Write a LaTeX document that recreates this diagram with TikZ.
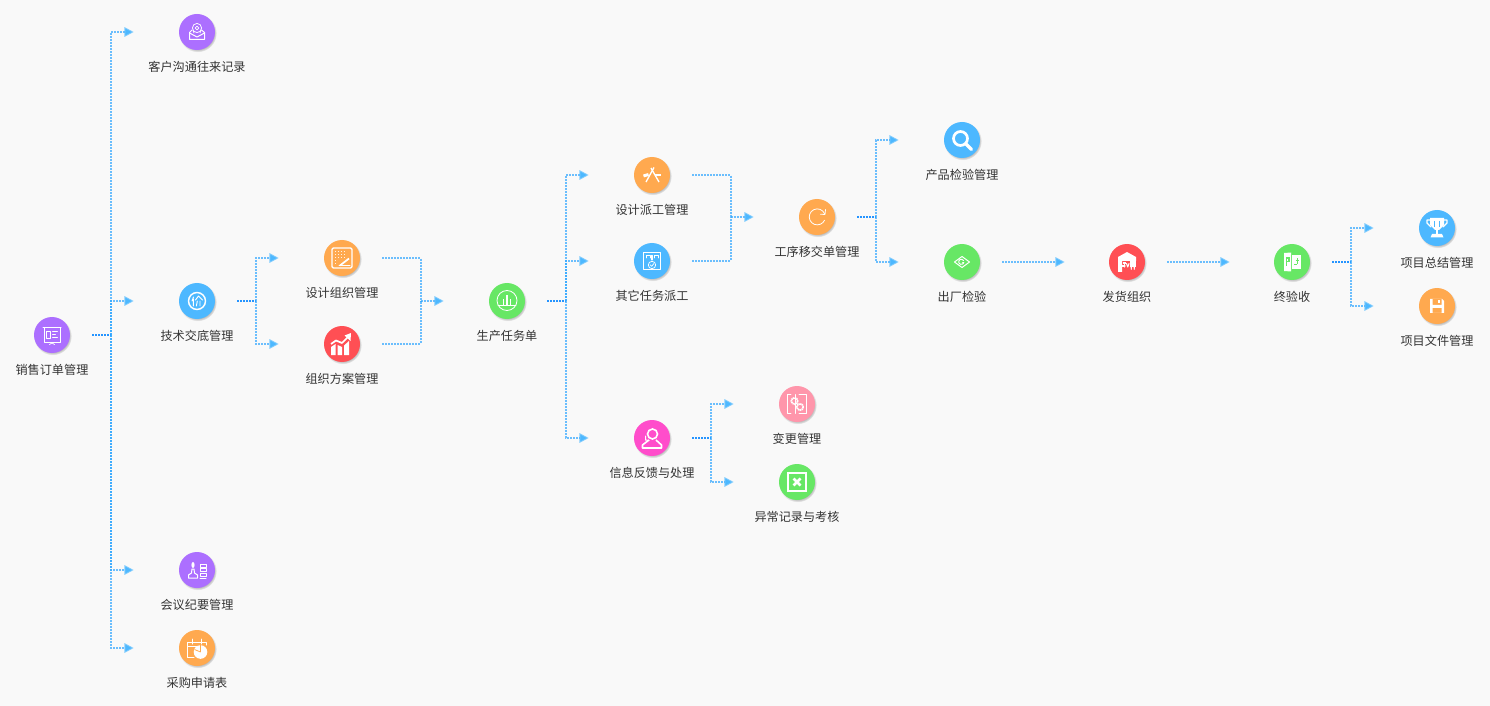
\documentclass[tikz,border=0pt]{standalone}
\usepackage{fontspec}
\setmainfont{Noto Sans CJK SC}
\usetikzlibrary{arrows.meta,calc,shadows}
\definecolor{bgc}{HTML}{F9F9F9}
\definecolor{lk}{HTML}{2FA6FF}
\definecolor{lkd}{HTML}{2594FF}
\definecolor{tipc}{HTML}{4DB8FF}
\definecolor{pur}{HTML}{AC6FFF}
\definecolor{blu}{HTML}{4DB8FF}
\definecolor{ora}{HTML}{FFA94F}
\definecolor{rdd}{HTML}{FF4F54}
\definecolor{grn}{HTML}{67E765}
\definecolor{mag}{HTML}{FF4DCB}
\definecolor{pnk}{HTML}{FF96AB}
\definecolor{txt}{HTML}{333333}
\tikzset{
 x=0.75pt,y=-0.75pt,
 disc/.style={circle,minimum size=27pt,inner sep=0pt,fill=#1,
   circular drop shadow={shadow xshift=0.5pt,shadow yshift=-0.8pt,shadow scale=1.06,opacity=.5}},
 lab/.style={font=\fontsize{9.1pt}{11pt}\selectfont,text=txt,inner sep=0pt,anchor=center},
 wire/.style={draw=lk,draw opacity=.7,line width=1.5pt,dash pattern=on 1.5pt off 0.75pt},
 stub/.style={wire,draw=lkd,draw opacity=1},
 wirearrow/.style={wire,-{Triangle[length=7pt,width=7pt,fill=tipc,color=tipc]}},
 ln/.style={draw=white,line width=0.75pt,line cap=round,line join=round,fill=none},
 thin/.style={draw=white,line width=0.55pt,line cap=round,line join=round,fill=none}
}
% name, colour, x, y, label
\newcommand{\unit}[5]{%
  \node[disc=#2] (#1) at (#3,#4) {};
  \node[lab] (#1lab) at (#3,#4+35) {#5};
}
% split connector: source to bus then to each target
\newcommand{\fork}[2]{%
  \coordinate (bus#1) at ($(#1.east)+(41,0)$);
  \draw[stub,shorten <=16.5pt] (#1.east) -- (bus#1);
  \foreach \t in {#2}{
    \draw[wirearrow,shorten >=33.75pt] (bus#1) |- (\t.west);
  }
}
% merge connector
\newcommand{\merge}[3]{%
  \coordinate (bus#3) at ($(#3.west)+(-68,0)$);
  \draw[wire,shorten <=16.5pt] (#1.east) -| (bus#3);
  \draw[wire,shorten <=16.5pt] (#2.east) -| (bus#3);
  \draw[wirearrow,shorten >=33.75pt] (bus#3) -- (#3.west);
}
\begin{document}
\begin{tikzpicture}
\useasboundingbox (0,0) rectangle (1490,706);
\fill[bgc] (0,0) rectangle (1490,706);

\unit{sales}{pur}{52}{335}{销售订单管理}
\unit{cust}{pur}{197}{32}{客户沟通往来记录}
\unit{tech}{blu}{197}{301}{技术交底管理}
\unit{meet}{pur}{197}{570}{会议纪要管理}
\unit{buy}{ora}{197}{648}{采购申请表}
\unit{dorg}{ora}{342}{258}{设计组织管理}
\unit{plan}{rdd}{342}{344}{组织方案管理}
\unit{prod}{grn}{507}{301}{生产任务单}
\unit{ddis}{ora}{652}{175}{设计派工管理}
\unit{odis}{blu}{652}{261}{其它任务派工}
\unit{info}{mag}{652}{438}{信息反馈与处理}
\unit{chg}{pnk}{797}{404}{变更管理}
\unit{exc}{grn}{797}{482}{异常记录与考核}
\unit{proc}{ora}{817}{217}{工序移交单管理}
\unit{insp}{blu}{962}{140}{产品检验管理}
\unit{fac}{grn}{962}{262}{出厂检验}
\unit{ship}{rdd}{1127}{262}{发货组织}
\unit{fin}{grn}{1292}{262}{终验收}
\unit{sumr}{blu}{1437}{228}{项目总结管理}
\unit{file}{ora}{1437}{306}{项目文件管理}

\fork{sales}{cust,tech,meet,buy}
\fork{tech}{dorg,plan}
\fork{prod}{ddis,odis,info}
\fork{info}{chg,exc}
\fork{proc}{insp,fac}
\fork{fin}{sumr,file}
\merge{dorg}{plan}{prod}
\merge{ddis}{odis}{proc}
\draw[wirearrow,shorten <=16.5pt,shorten >=33pt] (fac.east) -- (ship.west);
\draw[wirearrow,shorten <=16.5pt,shorten >=33pt] (ship.east) -- (fin.west);

% --- icons ---
\begin{scope}[shift={(sales.center)}]
 \draw[ln] (-9,-8)--(9,-8);
 \draw[thin] (-8,-7)--(-8,7)--(8,7)--(8,-7);
 \draw[thin] (-6,-4) rectangle (-1.5,3);
 \draw[thin] (0.5,-3.5)--(5.5,-3.5) (0.5,-0.5)--(3.5,-0.5) (0.5,2.5)--(5.5,2.5);
 \draw[thin] (-2.5,9.5)--(0,8)--(2.5,9.5);
\end{scope}
\begin{scope}[shift={(cust.center)}]
 \draw[ln] (-5,-2)--(-7.5,0.5)--(-7.5,7.5)--(7.5,7.5)--(7.5,0.5)--(4.5,-2);
 \draw[ln] (-7.5,1)--(0,5)--(7.5,1);
 \draw[thin] (0,-4) circle (4.6);
 \draw[thin] (0,-4) circle (1.8);
 \draw[thin] (-4,-1.5)--(-3,1) (4,-1.5)--(3,1);
\end{scope}
\begin{scope}[shift={(tech.center)}]
 \draw[draw=white,line width=1.1pt] (0,0) circle (8.5);
 \draw[thin,line width=0.7pt] (-3.5,-4)--(-5,0) (-3.7,-2)--(-3.7,5);
 \draw[thin,line width=0.7pt] (1.5,-5)--(-1.5,-1) (1.5,-5)--(5.5,-1);
 \draw[thin,line width=0.7pt] (0.3,0)--(-0.6,5) (3,0)--(3,5);
\end{scope}
\begin{scope}[shift={(meet.center)}]
 \draw[ln] (-8.5,8)--(-8.5,5)--(-5.5,3)--(-5,-1)--(-3,-1)--(-2.5,3)--(0.5,5)--(0.5,8)--cycle;
 \fill[white] (-4,-5) ellipse (1.6 and 3);
 \foreach \yy in {-6,-1.5,3}{\draw[thin,line width=0.7pt] (3,\yy) rectangle (9,\yy+3);}
 \draw[ln] (3,8)--(9,8);
\end{scope}
\begin{scope}[shift={(buy.center)}]
 \draw[ln] (-9.5,9)--(-9.5,-6)--(9,-6)--(9,-3);
 \draw[ln] (-9.5,-2)--(3,-2);
 \draw[ln] (-9.5,9)--(-3,9);
 \draw[ln] (-5,-9)--(-5,-4) (4,-9)--(4,-4);
 \fill[white] (3.5,4) circle (6.8);
 \draw[ora,line width=0.6pt] (3.5,4)--(3.5,-2.8) (3.5,4)--(-2.5,1.5);
\end{scope}
\begin{scope}[shift={(dorg.center)}]
 \draw[draw=white,line width=1pt,rounded corners=1pt] (-10,-10) rectangle (10,10);
 \foreach \xx in {-7,-4,-1,2}{\foreach \yy in {-7,-4,-1}{\fill[white,opacity=.85] (\xx,\yy) rectangle +(1.4,1);}}
 \foreach \yy in {2,5}{\fill[white,opacity=.85] (-7,\yy) rectangle +(1.4,1);}
 \draw[draw=white,line width=1.3pt] (-2,7.5)--(7,0.5);
 \draw[ln] (-3,8)--(8,8);
\end{scope}
\begin{scope}[shift={(plan.center)}]
 \fill[white] (-11,11)--(-11,3)--(-6.5,0)--(-6.5,11)--cycle;
 \fill[white] (-4.5,11)--(-4.5,1)--(0,3)--(0,11)--cycle;
 \fill[white] (2,11)--(2,1.5)--(7,-3)--(7,11)--cycle;
 \draw[draw=white,line width=1.3pt,line join=round] (-11,0)--(-6,-3.5)--(0,-1)--(6,-7);
 \fill[white] (9,-11)--(8.5,-3)--(2.5,-8.5)--cycle;
\end{scope}
\begin{scope}[shift={(prod.center)}]
 \draw[thin,line width=0.6pt] (0,-0.5) circle (10);
 \draw[thin,line width=0.6pt] (-9,4.5)--(9,4.5);
 \fill[white] (-3.6,-2) rectangle (-2.6,4.5);
 \fill[white] (-0.6,-6) rectangle (0.6,4.5);
 \fill[white] (2.6,-2) rectangle (3.6,4.5);
\end{scope}
\begin{scope}[shift={(ddis.center)}]
 \draw[draw=white,line width=1pt] (-6,7)--(2,-7.5);
 \draw[draw=white,line width=1pt] (-1,-7)--(7,7);
 \draw[draw=white,line width=2.2pt] (-8.5,1)--(-3.5,-0.5);
 \draw[draw=white,line width=1.6pt] (3,0)--(9,0);
\end{scope}
\begin{scope}[shift={(odis.center)}]
 \draw[thin,line width=0.7pt] (-8.5,-8.5)--(8.5,-8.5)--(8.5,8)--(-8.5,8)--cycle;
 \draw[thin] (-6,-3)--(-6,-6)--(-2,-6)--(-2,-3) (-0.8,-1)--(-0.8,-6)--(0.8,-6)--(0.8,-1) (2,-3)--(2,-6)--(6,-6)--(6,-3);
 \draw[thin] (0,4) circle (3.7);
 \draw[thin] (-1.7,3.8)--(-0.3,5.3)--(1.8,2.6);
\end{scope}
\begin{scope}[shift={(info.center)}]
 \draw[draw=white,line width=1.2pt] (0.5,-4) circle (5);
 \draw[draw=white,line width=1.2pt,line join=round] (-3,2)--(-9.5,7)--(-9.5,10)--(9.5,10)--(9.5,7)--(4,2);
 \draw[ln] (-6.5,-2)--(-6.5,2)--(-3,2.5);
\end{scope}
\begin{scope}[shift={(chg.center)}]
 \draw[thin,line width=0.7pt] (-6,-9.5)--(-9.5,-9.5)--(-9.5,9.5)--(-6,9.5);
 \draw[thin,line width=0.7pt] (-1.5,-9.5)--(-1.5,9.5);
 \draw[thin,line width=0.7pt] (2,-9.5)--(9.5,-9.5)--(9.5,9.5)--(2,9.5);
 \draw[draw=white,line width=1.3pt,dash pattern=on 1pt off .4pt] (-2.5,-3) circle (3.2);
 \draw[draw=white,line width=1.3pt,dash pattern=on 1pt off .4pt] (3,3) circle (3.2);
\end{scope}
\begin{scope}[shift={(exc.center)}]
 \draw[draw=white,line width=1.7pt] (-9,-9) rectangle (9,9);
 \draw[draw=white,line width=1.9pt] (-3.5,-3.5)--(3.5,3.5) (-3.5,3.5)--(3.5,-3.5);
\end{scope}
\begin{scope}[shift={(proc.center)}]
 \draw[thin,line width=0.6pt] (7.5,-3.5) arc (-25:-335:8 and 8);
 \draw[thin,line width=0.6pt] (8.5,-7.5)--(8,-2.5)--(3.5,-2.8);
\end{scope}
\begin{scope}[shift={(insp.center)}]
 \draw[draw=white,line width=2pt] (-1.5,-1.5) circle (7);
 \draw[draw=white,line width=2.6pt,line cap=round] (4,4)--(9.5,9.5);
\end{scope}
\begin{scope}[shift={(fac.center)}]
 \draw[ln] (-7.5,0)--(0,-5.5)--(7.5,0)--(0,5.5)--cycle;
 \draw[thin,line width=0.7pt] (1.5,-1.5) arc (-30:-330:2.6);
 \draw[thin,line width=0.7pt] (0.5,0.3)--(2,0.3);
\end{scope}
\begin{scope}[shift={(ship.center)}]
 \fill[white] (-9,10)--(-9,-5)--(0,-10)--(9,-5)--(9,-1)--(-5,-1)--(-5,10)--cycle;
 \fill[white] (-4,0) rectangle (-1,2);
 \draw[thin,line width=0.8pt] (-2.5,2)--(-2.5,5) (-5,4)--(-2,4);
 \fill[white] (3,-1) rectangle (9,5.5);
 \foreach \xx in {3.5,6.5}{\fill[white] (\xx,5)--(\xx+1.5,5)--(\xx+1,8)--(\xx+.5,8)--cycle;}
 \draw[thin,line width=0.8pt] (-0.5,1.5)--(0.8,5)--(2,1.5);
\end{scope}
\begin{scope}[shift={(fin.center)}]
 \fill[white] (-8,-9)--(-1,-9.5)--(-1,9.5)--(-8,9)--cycle;
 \fill[white] (0,-7) rectangle (8.5,7);
 \draw[grn,line width=0.8pt] (-5.5,4)--(-5.5,-4)--(-3,-4)--(-3,-0.5)--(-5.5,-0.5);
 \draw[grn,line width=0.8pt] (2,2.5)--(5,2.5) (5.5,2)--(5.5,-3.5) (3.5,-1.5)--(7,-1.5);
\end{scope}
\begin{scope}[shift={(sumr.center)}]
 \fill[white] (-7,-10)--(7,-10)--(7,-3)--(2,2)--(-2,2)--(-7,-3)--cycle;
 \draw[ln,line width=1pt] (-7,-8)--(-10,-8)--(-10,-5)--(-6,-1);
 \draw[ln,line width=1pt] (7,-8)--(10,-8)--(10,-5)--(6,-1);
 \fill[white] (-1.2,2) rectangle (1.2,6);
 \fill[white] (-5,6)--(5,6)--(6.5,9.5)--(-6.5,9.5)--cycle;
 \draw[blu,line width=0.9pt] (-2.5,-7)--(-2.5,-1);
 \draw[blu,line width=0.9pt] (2.5,-7)--(2.5,-1);
\end{scope}
\begin{scope}[shift={(file.center)}]
 \fill[white,even odd rule] (-7,-7)--(5,-7)--(7,-5)--(7,7)--(-7,7)--cycle
   (-4.5,-7)--(-4.5,-1)--(4.5,-1)--(4.5,-7)--cycle
   (-4.5,2)--(-4.5,7)--(4.5,7)--(4.5,2)--cycle;
 \fill[white] (1,-6) rectangle (3,-3);
\end{scope}
\end{tikzpicture}
\end{document}
